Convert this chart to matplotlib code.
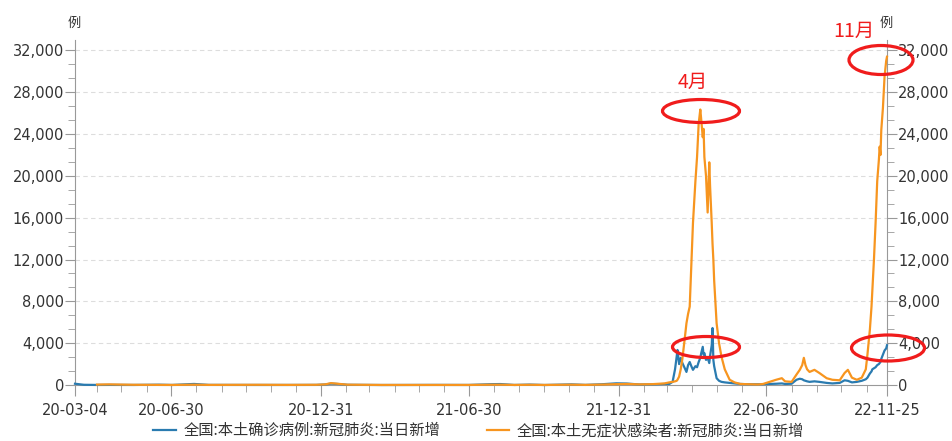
import numpy as np
import pandas as pd
import matplotlib
matplotlib.use("Agg")
import matplotlib.pyplot as plt
import matplotlib.dates as mdates
from matplotlib.patches import Ellipse
from matplotlib.ticker import MultipleLocator, FuncFormatter

plt.rcParams['font.family'] = ['Noto Sans CJK SC', 'DejaVu Sans']

# 数据
dates = [
    "2020-03-04", "2020-03-15", "2020-03-31", "2020-04-15", "2020-05-15", "2020-06-15",
    "2020-07-01", "2020-07-28", "2020-08-15", "2020-10-15", "2020-11-20", "2020-12-25",
    "2021-01-05", "2021-01-12", "2021-01-20", "2021-02-01", "2021-03-15", "2021-05-20",
    "2021-06-30", "2021-07-28", "2021-08-08", "2021-08-25", "2021-09-13", "2021-10-01",
    "2021-11-03", "2021-11-20", "2021-12-10", "2021-12-28", "2022-01-10", "2022-01-25",
    "2022-02-10", "2022-02-25", "2022-03-03", "2022-03-07", "2022-03-10", "2022-03-12",
    "2022-03-13", "2022-03-15", "2022-03-17", "2022-03-19", "2022-03-22", "2022-03-24",
    "2022-03-26", "2022-03-28", "2022-03-30", "2022-04-01", "2022-04-04", "2022-04-06",
    "2022-04-08", "2022-04-10", "2022-04-11", "2022-04-13", "2022-04-14", "2022-04-15",
    "2022-04-17", "2022-04-19", "2022-04-21", "2022-04-22", "2022-04-24", "2022-04-25",
    "2022-04-26", "2022-04-27", "2022-04-30", "2022-05-03", "2022-05-06", "2022-05-10",
    "2022-05-16", "2022-05-22", "2022-05-29", "2022-06-05", "2022-06-20", "2022-06-26",
    "2022-07-04", "2022-07-12", "2022-07-19", "2022-07-23", "2022-07-31", "2022-08-06",
    "2022-08-10", "2022-08-13", "2022-08-15", "2022-08-17", "2022-08-19", "2022-08-22",
    "2022-08-28", "2022-09-03", "2022-09-12", "2022-09-19", "2022-09-28", "2022-10-04",
    "2022-10-08", "2022-10-13", "2022-10-19", "2022-10-25", "2022-10-30", "2022-11-01",
    "2022-11-04", "2022-11-06", "2022-11-07", "2022-11-09", "2022-11-11", "2022-11-13",
    "2022-11-15", "2022-11-16", "2022-11-17", "2022-11-18", "2022-11-20", "2022-11-22",
    "2022-11-24", "2022-11-25",
]

# 全国:本土确诊病例:新冠肺炎:当日新增
confirmed = [
    120, 20, 5, 10, 5, 30,
    5, 100, 10, 5, 5, 10,
    50, 130, 100, 20, 0, 10,
    5, 80, 90, 5, 40, 0,
    60, 10, 70, 160, 140, 50,
    60, 100, 100, 300, 1500, 2700,
    3350, 2000, 2600, 2100, 1600, 1250,
    1900, 2200, 1800, 1450, 1800, 1700,
    2200, 2600, 3000, 3650, 2900, 3050,
    2400, 2600, 2100, 2800, 3800, 5450,
    2400, 1800, 650, 400, 300, 250,
    200, 150, 100, 80, 70, 80,
    100, 120, 150, 100, 120, 500,
    600, 550, 450, 400, 350, 300,
    350, 300, 200, 150, 200, 450,
    400, 250, 300, 400, 550, 700,
    1100, 1300, 1500, 1600, 1700, 1900,
    2000, 2100, 2200, 2500, 2900, 3300,
    3500, 3800,
]

# 全国:本土无症状感染者:新冠肺炎:当日新增
asymptomatic = [
    np.nan, np.nan, 40, 60, 20, 10,
    5, 30, 10, 20, 10, 20,
    60, 180, 120, 30, 5, 5,
    5, 30, 30, 5, 20, 5,
    30, 10, 40, 80, 100, 60,
    80, 150, 250, 300, 350, 400,
    500, 800, 1500, 2500, 4500, 5900,
    6800, 7500, 11500, 15500, 19500, 21800,
    25000, 26350, 25500, 23700, 24500, 21800,
    20000, 16500, 21300, 19000, 15500, 13500,
    12000, 10000, 5900, 4000, 2700, 1500,
    500, 250, 100, 80, 50, 100,
    300, 500, 650, 350, 300, 1000,
    1450, 1900, 2600, 1900, 1500, 1250,
    1450, 1150, 650, 500, 450, 1150,
    1450, 700, 500, 700, 1500, 2900,
    5300, 7500, 9000, 12000, 15500, 19500,
    21500, 22800, 22000, 24400, 26500, 29500,
    31000, 31400,
]

x_major = ["2020-03-04", "2020-06-30", "2020-12-31", "2021-06-30",
           "2021-12-31", "2022-06-30", "2022-11-25"]

legend_labels = ["全国:本土确诊病例:新冠肺炎:当日新增",
                 "全国:本土无症状感染者:新冠肺炎:当日新增"]

d = pd.to_datetime(dates)
blue = "#2a7bb0"
orange = "#f7951f"
axis_col = "#999999"
text_col = "#333333"

fig = plt.figure(figsize=(9.52, 4.41), dpi=100)
ax = fig.add_axes([75 / 952, 56 / 441, 812 / 952, 345 / 441])

ax.plot(d, confirmed, color=blue, lw=1.6, clip_on=False, zorder=3, label=legend_labels[0])
ax.plot(d, asymptomatic, color=orange, lw=1.6, clip_on=False, zorder=4, label=legend_labels[1])

ax.set_xlim(pd.Timestamp("2020-03-04"), pd.Timestamp("2022-11-25"))
ax.set_ylim(0, 33000)

# y轴（左右两侧）
ax.yaxis.set_major_locator(MultipleLocator(4000))
ax.yaxis.set_minor_locator(MultipleLocator(4000 / 3))
ax.yaxis.set_major_formatter(FuncFormatter(lambda v, p: f"{v:,.0f}"))
ax.tick_params(axis="y", which="both", left=True, right=True, labelleft=True,
               labelright=True, colors=axis_col, labelcolor=text_col)
ax.tick_params(axis="y", which="major", length=7, pad=1)
ax.tick_params(axis="y", which="minor", length=5)

# x轴
ax.set_xticks(pd.to_datetime(x_major))
ax.xaxis.set_major_formatter(mdates.DateFormatter("%y-%m-%d"))
ax.xaxis.set_minor_locator(mdates.MonthLocator(bymonthday=-1))
ax.tick_params(axis="x", which="both", colors=axis_col, labelcolor=text_col)
ax.tick_params(axis="x", which="major", length=8, pad=5)
ax.tick_params(axis="x", which="minor", length=5)

for lab in ax.get_xticklabels() + ax.get_yticklabels():
    lab.set_fontfamily("DejaVu Sans")
    lab.set_fontsize(10.5)
for t in ax.yaxis.get_major_ticks():
    t.label2.set_fontfamily("DejaVu Sans")
    t.label2.set_fontsize(10.5)

for s in ["left", "right", "bottom"]:
    ax.spines[s].set_color(axis_col)
ax.spines["top"].set_visible(False)

for v in range(4000, 33000, 4000):
    ax.axhline(v, color="#dddddd", lw=0.8, ls=(0, (4, 3)), zorder=1)

fig.text(74 / 952, 1 - 23 / 441, "例", ha="center", va="center", fontsize=9.5, color=text_col)
fig.text(886 / 952, 1 - 23 / 441, "例", ha="center", va="center", fontsize=9.5, color=text_col)

# 红色标注
def mark(cx, cy, w, h):
    e = Ellipse((cx / 952, 1 - cy / 441), w / 952, h / 441, transform=fig.transFigure,
                fill=False, edgecolor="#f01c1c", lw=2.3, zorder=10)
    fig.add_artist(e)

mark(701, 111, 77, 23)
mark(706, 347, 67, 21)
mark(881, 60, 64, 29)
mark(888, 348, 73, 26)

fig.text(693 / 952, 1 - 82 / 441, "4月", ha="center", va="center", fontsize=14, color="#f01c1c")
fig.text(854 / 952, 1 - 31 / 441, "11月", ha="center", va="center", fontsize=14, color="#f01c1c")

fig.legend(loc="center", bbox_to_anchor=(0.503, 0.024), ncol=2, frameon=False,
           fontsize=11, handlelength=1.5, handletextpad=0.5, columnspacing=3,
           labelcolor=text_col, borderpad=0.2)

fig.savefig("out.png", dpi=100)
